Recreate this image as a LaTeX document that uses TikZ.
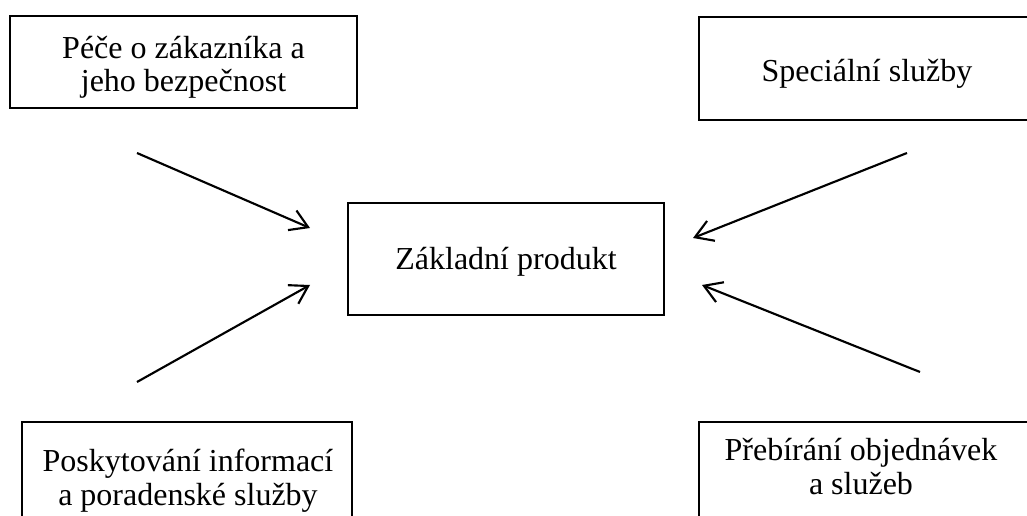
\documentclass[tikz,border=0pt]{standalone}
\usepackage{fontspec}
\setmainfont{Liberation Serif}
\usetikzlibrary{arrows.meta}
\begin{document}
\begin{tikzpicture}[x=0.75pt,y=-0.75pt,
  box/.style={draw, line width=1.3pt, inner sep=0pt, rectangle},
  lbl/.style={anchor=base, align=center, inner sep=0pt,
    font=\fontsize{24}{25}\selectfont},
  arr/.style={line width=1.6pt, -{Straight Barb[length=13pt,width=16pt,line width=1.6pt]}}]
\useasboundingbox (0,0) rectangle (1027,516);
\clip (0,0) rectangle (1027,516);
% boxes
\node[box, minimum width=260.25pt, minimum height=69pt] (tl) at (183.5,62) {};
\node[box, minimum width=252pt, minimum height=77.25pt] (tr) at (867,68.5) {};
\node[box, minimum width=237pt, minimum height=84pt] (c) at (506,259) {};
\node[box, minimum width=247.5pt, minimum height=88.5pt] (bl) at (187,481) {};
\node[box, minimum width=252pt, minimum height=75pt] (br) at (867,472) {};
% texts (base anchor = baseline of the last line)
\node[lbl] (tltext) at (183.5,92) {Péče o zákazníka a\\jeho bezpečnost};
\node[lbl] (trtext) at (867,82) {Speciální služby};
\node[lbl] (ctext) at (506,270) {Základní produkt};
\node[lbl] (bltext) at (188,505) {Poskytování informací\\a poradenské služby};
\node[lbl] (brtext) at (861,494) {Přebírání objednávek\\a služeb};
% arrow end points
\coordinate (a1s) at (137,153);
\coordinate (a1e) at (310,228);
\coordinate (a2s) at (907,153);
\coordinate (a2e) at (693,238);
\coordinate (a3s) at (137,382);
\coordinate (a3e) at (310,285);
\coordinate (a4s) at (920,372);
\coordinate (a4e) at (702,285);
\draw[arr] (a1s) -- (a1e);
\draw[arr] (a2s) -- (a2e);
\draw[arr] (a3s) -- (a3e);
\draw[arr] (a4s) -- (a4e);
\end{tikzpicture}
\end{document}
